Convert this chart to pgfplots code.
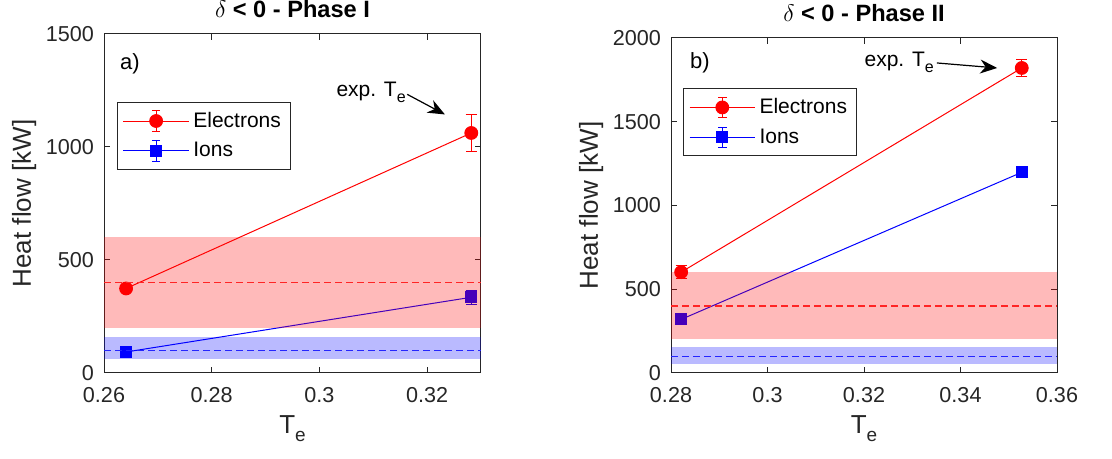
\documentclass[border=0pt]{standalone}
\usepackage{pgfplots}
\pgfplotsset{compat=1.18}
\usepackage{fontspec}
\setmainfont{Liberation Sans}
\usetikzlibrary{arrows.meta}
\definecolor{axgray}{RGB}{38,38,38}
\newcommand{\Te}[1]{T\raisebox{-0.55ex}{\fontsize{#1}{#1}\selectfont e}}

\pgfplotsset{
  mystyle/.style={
    scale only axis,
    clip marker paths=true,
    axis line style={axgray, line width=0.5pt},
    tick style={axgray, line width=0.5pt},
    major tick length=3pt,
    tick align=inside,
    xtick pos=both, ytick pos=both,
    xticklabel pos=bottom, yticklabel pos=left,
    ticklabel style={font=\fontsize{10.8}{13}\selectfont, text=axgray},
    xticklabel style={yshift=-3.5pt},
    yticklabel style={xshift=-1.5pt},
    /pgf/number format/assume math mode=true,
    /pgf/number format/set thousands separator={},
    scaled x ticks=false, scaled y ticks=false,
    label style={font=\fontsize{13}{15}\selectfont, text=axgray},
    ylabel style={yshift=-2pt},
    title style={font=\bfseries\fontsize{11.8}{14}\selectfont, yshift=-1.5pt},
    ylabel={Heat flow [kW]},
    xlabel={\Te{9.5}},
    ymin=0,
    legend cell align=left,
    legend style={draw=axgray, line width=0.5pt, font=\fontsize{10.5}{12}\selectfont, text=black,
      row sep=2pt, inner sep=2.8pt},
    legend image code/.code={
      \draw[##1, mark=none] (0cm,0cm) -- (1.15cm,0cm);
      \draw[##1, mark=none, solid] (0.575cm,-0.18cm) -- (0.575cm,0.18cm);
      \draw[##1, mark=none, solid] (0.5cm,0.18cm) -- (0.65cm,0.18cm);
      \draw[##1, mark=none, solid] (0.5cm,-0.18cm) -- (0.65cm,-0.18cm);
      \draw[##1, only marks] plot coordinates {(0.575cm,0cm)};
    },
  },
  elec/.style={red, line width=0.5pt, mark=*, mark size=3.2pt, mark options={solid, fill=red, draw=red},
    error bars/.cd, y dir=both, y explicit, error bar style={red, line width=0.5pt},
    error mark options={rotate=90, mark size=2.8pt, red, line width=0.5pt}},
  ions/.style={blue, line width=0.5pt, mark=square*, mark size=2.7pt, mark options={solid, fill=blue, draw=blue},
    error bars/.cd, y dir=both, y explicit, error bar style={blue, line width=0.5pt},
    error mark options={rotate=90, mark size=2.8pt, blue, line width=0.5pt}},
  dashr/.style={forget plot, red!80, line width=0.7pt, dash pattern=on 3.5pt off 2pt},
  dashb/.style={forget plot, blue!80, line width=0.7pt, dash pattern=on 3.5pt off 2pt},
}

\begin{document}
\begin{tikzpicture}
\useasboundingbox (0,0) rectangle (556pt,229.5pt);

% ---------- Panel a ----------
\begin{axis}[mystyle,
  at={(52pt,43pt)}, anchor=south west,
  width=188.5pt, height=169.5pt,
  xmin=0.26, xmax=0.33, ymax=1500,
  xtick={0.26,0.28,0.3,0.32}, ytick={0,500,1000,1500},
  title={$\delta$ < 0 - Phase I},
  legend style={at={(0.034,0.80)}, anchor=north west},
]
\addplot[elec] coordinates {(0.2641,374) +- (0,15) (0.3282,1062) +- (0,80)};
\addlegendentry{Electrons}
\addplot[ions] coordinates {(0.2641,93) +- (0,10) (0.3282,335) +- (0,30)};
\addlegendentry{Ions}
\addplot[dashr] coordinates {(0.26,400) (0.33,400)};
\addplot[dashb] coordinates {(0.26,100) (0.33,100)};
\addplot[forget plot, draw=none, fill=red, fill opacity=0.27] coordinates {(0.26,200) (0.33,200) (0.33,600) (0.26,600)} -- cycle;
\addplot[forget plot, draw=none, fill=blue, fill opacity=0.27] coordinates {(0.26,60) (0.33,60) (0.33,158) (0.26,158)} -- cycle;
\node[font=\fontsize{11}{13}\selectfont, text=black] at (axis cs:0.2648,1366) {a)};
\node[font=\fontsize{10.5}{13}\selectfont, text=black] at (axis cs:0.3096,1242) {exp. \Te{8}};
\draw[-{Stealth[length=8.5pt,width=7pt]}, line width=0.6pt] (axis cs:0.3163,1233) -- (axis cs:0.3233,1144);
\end{axis}

% ---------- Panel b ----------
\begin{axis}[mystyle,
  at={(335.5pt,43pt)}, anchor=south west,
  width=193pt, height=167.5pt,
  xmin=0.28, xmax=0.36, ymax=2000,
  xtick={0.28,0.3,0.32,0.34,0.36}, ytick={0,500,1000,1500,2000},
  title={$\delta$ < 0 - Phase II},
  legend style={at={(0.031,0.85)}, anchor=north west},
]
\addplot[elec] coordinates {(0.2821,602) +- (0,40) (0.3527,1821) +- (0,50)};
\addlegendentry{Electrons}
\addplot[ions] coordinates {(0.2821,320) +- (0,25) (0.3527,1198) +- (0,28)};
\addlegendentry{Ions}
\addplot[dashr] coordinates {(0.28,400) (0.36,400)};
\addplot[dashb] coordinates {(0.28,100) (0.36,100)};
\addplot[forget plot, draw=none, fill=red, fill opacity=0.27] coordinates {(0.28,200) (0.36,200) (0.36,600) (0.28,600)} -- cycle;
\addplot[forget plot, draw=none, fill=blue, fill opacity=0.27] coordinates {(0.28,55) (0.36,55) (0.36,158) (0.28,158)} -- cycle;
\node[font=\fontsize{11}{13}\selectfont, text=black] at (axis cs:0.2860,1851) {b)};
\node[font=\fontsize{10.5}{13}\selectfont, text=black] at (axis cs:0.3273,1857) {exp. \Te{8}};
\draw[-{Stealth[length=8.5pt,width=7pt]}, line width=0.6pt] (axis cs:0.3351,1851) -- (axis cs:0.3476,1821);
\end{axis}
\end{tikzpicture}
\end{document}
